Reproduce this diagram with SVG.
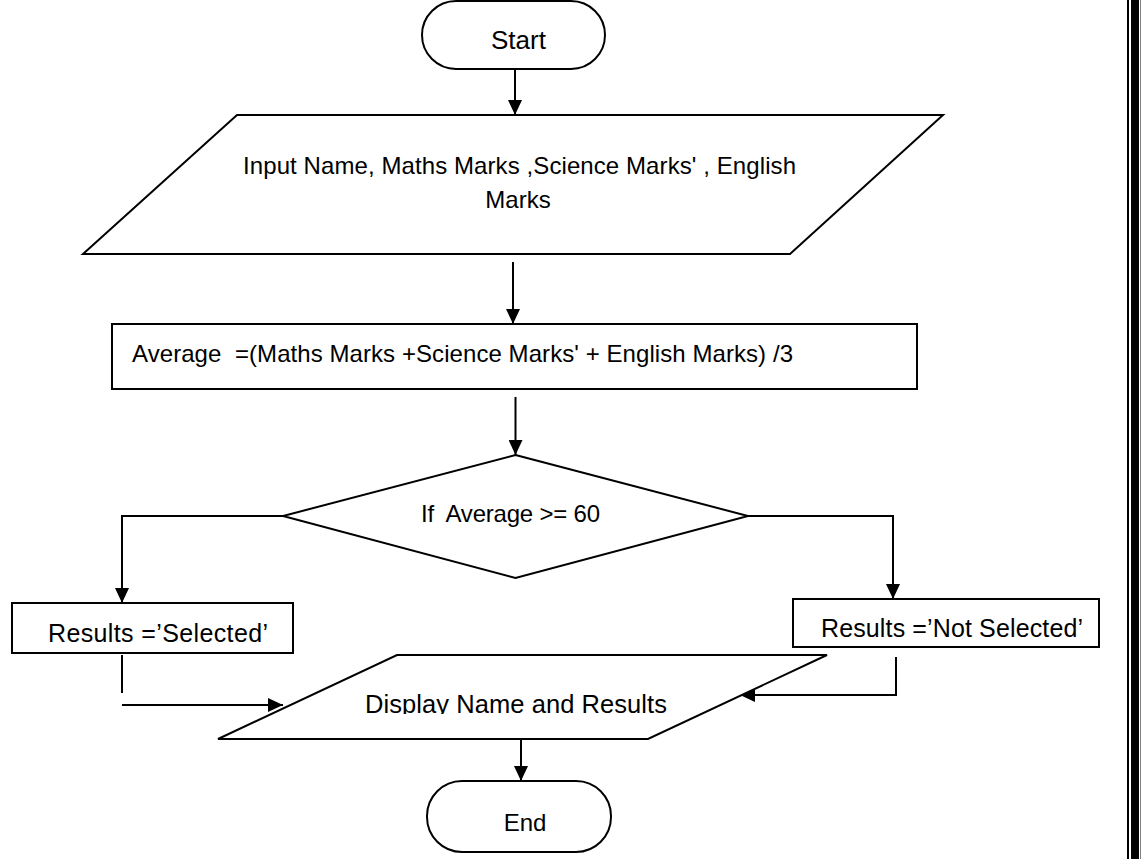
<svg xmlns="http://www.w3.org/2000/svg" width="1141" height="859" viewBox="0 0 1141 859">
<style>
.s{fill:#fff;stroke:#000;stroke-width:2}
.t{font-family:"Liberation Sans",Arial,sans-serif;font-size:24px;fill:#000;white-space:pre}
.c{fill:none;stroke:#000;stroke-width:2}
</style>
<defs>
<marker id="ah" viewBox="0 0 15 14" refX="15" refY="7" markerWidth="15" markerHeight="14" markerUnits="userSpaceOnUse" orient="auto">
<path d="M0,0 L15,7 L0,14 z" fill="#000"/>
</marker>
<clipPath id="dclip"><rect x="200" y="640" width="700" height="74"/></clipPath>
</defs>
<rect width="1141" height="859" fill="#fff"/>
<g id="border">
<rect x="1127" y="0" width="2" height="859" fill="#000"/>
<rect x="1131" y="0" width="8" height="859" fill="#000"/>
<rect x="1140.5" y="0" width="0.5" height="859" fill="#000"/>
</g>
<g id="connectors">
<line class="c" x1="515" y1="69" x2="515" y2="115" marker-end="url(#ah)"/>
<line class="c" x1="513" y1="262" x2="513" y2="324" marker-end="url(#ah)"/>
<line class="c" x1="515.5" y1="397" x2="515.5" y2="455" marker-end="url(#ah)"/>
<polyline class="c" points="283,516 122,516 122,603" marker-end="url(#ah)"/>
<polyline class="c" points="748,516 893,516 893,599" marker-end="url(#ah)"/>
<line class="c" x1="122" y1="655" x2="122" y2="693"/>
<line class="c" x1="122" y1="705" x2="283" y2="705" marker-end="url(#ah)"/>
<polyline class="c" points="896,657 896,695 740,695" marker-end="url(#ah)"/>
<line class="c" x1="521" y1="740" x2="521" y2="781" marker-end="url(#ah)"/>
</g>
<g id="start">
<rect class="s" x="422" y="1" width="183" height="68" rx="34" ry="34"/>
<text class="t" x="518.5" y="49" text-anchor="middle" style="font-size:26px">Start</text>
</g>
<g id="input">
<polygon class="s" points="237,115 943,115 790,254 83,254"/>
<text class="t" x="243" y="174" textLength="553">Input Name, Maths Marks ,Science Marks' , English</text>
<text class="t" x="518" y="208" text-anchor="middle">Marks</text>
</g>
<g id="average">
<rect class="s" x="112" y="324" width="805" height="65"/>
<text class="t" x="132" y="362" textLength="661">Average  =(Maths Marks +Science Marks' + English Marks) /3</text>
</g>
<g id="decision">
<polygon class="s" points="515.5,455 748,516 515.5,578 283,516"/>
<text class="t" x="421" y="522" textLength="179">If  Average &gt;= 60</text>
</g>
<g id="selected">
<rect class="s" x="12" y="603" width="281" height="50"/>
<text class="t" x="48" y="642" style="font-size:25px" textLength="220">Results =’Selected’</text>
</g>
<g id="notselected">
<rect class="s" x="793" y="599" width="306" height="48"/>
<text class="t" x="821" y="637" style="font-size:25px" textLength="262">Results =’Not Selected’</text>
</g>
<g id="display">
<polygon class="s" points="397,655 827,655 648,739 218,739"/>
<text class="t" x="365" y="713" clip-path="url(#dclip)" style="font-size:25.5px" textLength="302">Display Name and Results</text>
</g>
<g id="end">
<rect class="s" x="427" y="781" width="184" height="71" rx="35" ry="35"/>
<text class="t" x="525" y="831" text-anchor="middle">End</text>
</g>
</svg>
